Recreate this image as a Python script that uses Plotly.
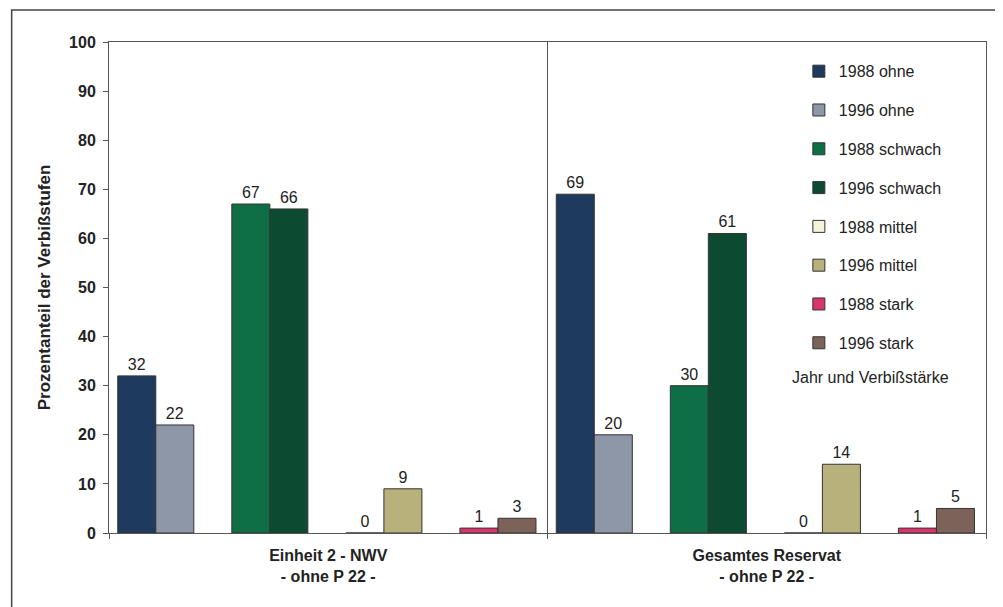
import plotly.graph_objects as go

categories = ["Einheit 2 - NWV<br>- ohne P 22 -", "Gesamtes Reservat<br>- ohne P 22 -"]
series_names = ["1988 ohne", "1996 ohne", "1988 schwach", "1996 schwach",
                "1988 mittel", "1996 mittel", "1988 stark", "1996 stark"]
v_1988_ohne = [32, 69]
v_1996_ohne = [22, 20]
v_1988_schwach = [67, 30]
v_1996_schwach = [66, 61]
v_1988_mittel = [0, 0]
v_1996_mittel = [9, 14]
v_1988_stark = [1, 1]
v_1996_stark = [3, 5]
series_values = [v_1988_ohne, v_1996_ohne, v_1988_schwach, v_1996_schwach,
                 v_1988_mittel, v_1996_mittel, v_1988_stark, v_1996_stark]
y_ticks = list(range(0, 101, 10))

colors = ["#1e3a5e", "#8d97a7", "#0e6f47", "#0c4b32",
          "#f4f2da", "#b8b17b", "#d8356a", "#7c6259"]

FONT = "Liberation Sans, Arial, sans-serif"
bw = 0.0867
margin = 0.02

fig = go.Figure()
for i, (name, vals) in enumerate(zip(series_names, series_values)):
    k, j = divmod(i, 2)
    off = -0.5 + margin + (3 * k + j) * bw
    fig.add_trace(go.Bar(
        x=categories, y=vals, name=name,
        width=bw, offset=off,
        marker=dict(color=colors[i], line=dict(color="#333333", width=1)),
        text=[str(v) for v in vals], textposition="outside",
        textfont=dict(family=FONT, size=16, color="#222222"),
        cliponaxis=False, legendgroup=f"g{i}",
    ))

fig.update_layout(
    width=995, height=599,
    margin=dict(l=101, r=17, t=34, b=74),
    paper_bgcolor="white", plot_bgcolor="white",
    barmode="overlay", showlegend=True,
    font=dict(family=FONT, color="#222222"),
    legend=dict(x=0.7866, y=0.975, xanchor="left", yanchor="top",
                bgcolor="rgba(0,0,0,0)", tracegroupgap=15,
                font=dict(family=FONT, size=16, color="#222222")),
    annotations=[dict(text="Jahr und Verbißstärke", xref="paper", yref="paper",
                      x=0.868, y=0.316, xanchor="center", yanchor="middle",
                      showarrow=False, font=dict(family=FONT, size=16, color="#222222"))],
    shapes=[dict(type="rect", xref="paper", yref="paper",
                 x0=-0.111, x1=1.05, y0=-0.2, y1=1.065,
                 line=dict(color="#444444", width=1.5), fillcolor="rgba(0,0,0,0)")],
)
fig.update_xaxes(
    tickson="boundaries", showgrid=True, gridcolor="#555555", gridwidth=1,
    ticks="outside", ticklen=5, tickcolor="#555555",
    showline=True, linecolor="#555555", linewidth=1, mirror=True,
    ticklabelstandoff=8,
    tickfont=dict(family=FONT, size=16, color="#222222", weight="bold"),
    range=[-0.5, 1.5],
)
fig.update_yaxes(
    range=[0, 100], tickvals=y_ticks, showgrid=False, zeroline=False,
    ticks="outside", ticklen=5, tickcolor="#555555",
    showline=True, linecolor="#555555", linewidth=1, mirror=True,
    ticklabelstandoff=4,
    tickfont=dict(family=FONT, size=16, color="#222222", weight="bold"),
    title=dict(text="Prozentanteil der Verbißstufen", standoff=14,
               font=dict(family=FONT, size=17, color="#222222", weight="bold")),
)

fig.write_html("out.html")
